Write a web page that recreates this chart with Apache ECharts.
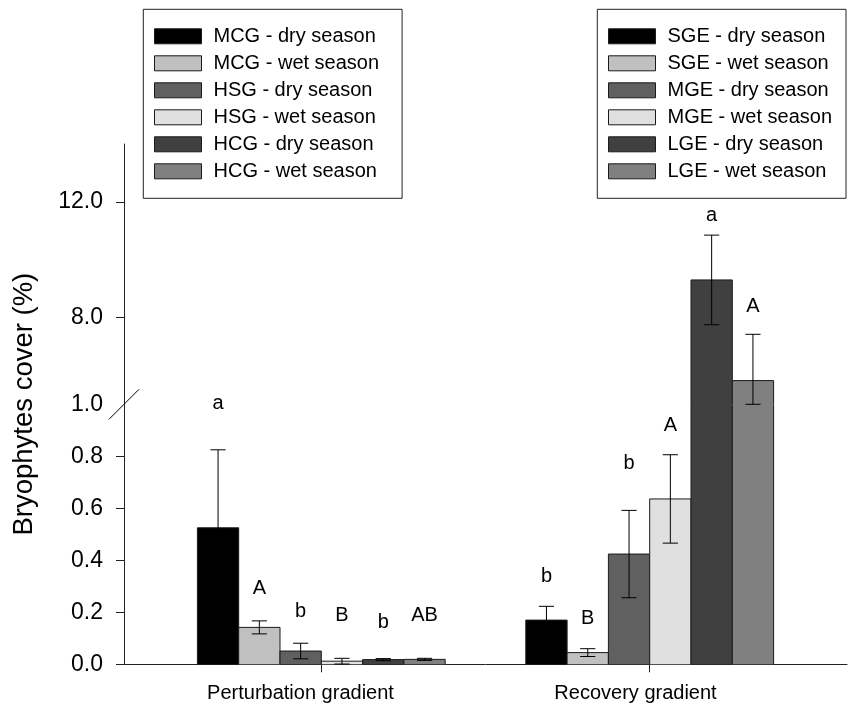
<!DOCTYPE html>
<html><head><meta charset="utf-8">
<script src="https://cdn.jsdelivr.net/npm/echarts@6/dist/echarts.min.js"></script>
<style>html,body{margin:0;padding:0;background:#fff}#chart{width:848px;height:713px}</style>
</head><body><div id="chart"></div>
<script>
// ---------------- data ----------------
const categories = ['Perturbation gradient', 'Recovery gradient'];

const perturbationNames = ['MCG - dry season', 'MCG - wet season', 'HSG - dry season', 'HSG - wet season', 'HCG - dry season', 'HCG - wet season'];
const perturbationMeans = [0.525, 0.142, 0.051, 0.012, 0.018, 0.019];
const perturbationErrors = [0.300, 0.025, 0.030, 0.011, 0.004, 0.004];
const perturbationLetters = ['a', 'A', 'b', 'B', 'b', 'AB'];
const perturbationLetterY = [1.003, 0.291, 0.205, 0.186, 0.161, 0.186];

const recoveryNames = ['SGE - dry season', 'SGE - wet season', 'MGE - dry season', 'MGE - wet season', 'LGE - dry season', 'LGE - wet season'];
const recoveryMeans = [0.170, 0.045, 0.424, 0.636, 9.30, 5.82];
const recoveryErrors = [0.053, 0.015, 0.168, 0.170, 1.55, 1.60];
const recoveryLetters = ['b', 'B', 'b', 'A', 'a', 'A'];
const recoveryLetterY = [0.336, 0.177, 0.773, 0.920, 11.53, 8.37];

const lowerRange = [0, 1.0];
const upperRange = [5, 14];
const lowerTickValues = [0, 0.2, 0.4, 0.6, 0.8];
const lowerLabelValues = [0, 0.2, 0.4, 0.6, 0.8, 1.0];
const upperTickValues = [8, 12];
const upperLabelValues = [8, 12];

const barColors = ['#000000', '#c0c0c0', '#606060', '#e0e0e0', '#404040', '#808080'];

// ---------------- style ----------------
const FONT = '"Liberation Sans", Arial, Helvetica, sans-serif';
const BAR_FRAC = 41.3 / 328.4;
const CAP_HALF = 7.6;
const EDGE = '#1a1a1a';
const AXIS_COLOR = '#222';

const groups = [
  {cat: 0, names: perturbationNames, means: perturbationMeans, errors: perturbationErrors, letters: perturbationLetters, letterY: perturbationLetterY},
  {cat: 1, names: recoveryNames, means: recoveryMeans, errors: recoveryErrors, letters: recoveryLetters, letterY: recoveryLetterY}
];

function renderBar(params, api, range, letter, showLetter) {
  const cat = api.value(0), v = api.value(1), e = api.value(2), k = api.value(3), ly = api.value(4);
  const axisMin = range[0], axisMax = range[1];
  const band = api.size([1, 0])[0];
  const w = band * BAR_FRAC;
  const cx = api.coord([cat, axisMin])[0];
  const x0 = cx + (k - 3) * w;
  const xc = x0 + w / 2;
  const yBase = api.coord([cat, axisMin])[1];
  const yMaxPix = api.coord([cat, axisMax])[1];
  const color = api.visual('color');
  const children = [];
  if (v > axisMin) {
    const clipped = v > axisMax;
    const continuesBelow = axisMin > 0; // segment above the axis break
    const yTop = clipped ? yMaxPix : api.coord([cat, v])[1];
    const fillTop = clipped ? yTop - 1 : yTop;
    const fillBottom = continuesBelow ? yBase + 1 : yBase;
    children.push({type: 'rect', shape: {x: x0, y: fillTop, width: w, height: fillBottom - fillTop}, style: {fill: color}});
    if (clipped) {
      children.push({type: 'line', shape: {x1: x0, y1: yBase, x2: x0, y2: yTop}, style: {stroke: EDGE, lineWidth: 1}});
      children.push({type: 'line', shape: {x1: x0 + w, y1: yBase, x2: x0 + w, y2: yTop}, style: {stroke: EDGE, lineWidth: 1}});
    } else {
      children.push({type: 'polyline', shape: {points: [[x0, yBase], [x0, yTop], [x0 + w, yTop], [x0 + w, yBase]]},
        style: {stroke: EDGE, lineWidth: 1, fill: null}});
    }
  }
  // error bars
  const lo = v - e, hi = v + e;
  if (hi >= axisMin && lo <= axisMax) {
    const a = Math.max(lo, axisMin), b = Math.min(hi, axisMax);
    const ya = api.coord([cat, a])[1], yb = api.coord([cat, b])[1];
    children.push({type: 'line', shape: {x1: xc, y1: ya, x2: xc, y2: yb}, style: {stroke: '#000', lineWidth: 1}});
    if (hi <= axisMax) children.push({type: 'line', shape: {x1: xc - CAP_HALF, y1: yb, x2: xc + CAP_HALF, y2: yb}, style: {stroke: '#000', lineWidth: 1}});
    children.push({type: 'line', shape: {x1: xc - CAP_HALF, y1: ya, x2: xc + CAP_HALF, y2: ya}, style: {stroke: '#000', lineWidth: 1}});
  }
  if (showLetter) {
    const yl = api.coord([cat, ly])[1];
    children.push({type: 'text', style: {text: letter, x: xc, y: yl, fill: '#000', font: '20px ' + FONT, align: 'center', verticalAlign: 'middle'}});
  }
  return {type: 'group', children: children};
}

const series = [];
[0, 1].forEach(function (gi) {
  const range = gi === 0 ? lowerRange : upperRange;
  groups.forEach(function (g) {
    g.names.forEach(function (name, k) {
      const inLower = g.letterY[k] < upperRange[0];
      const showLetter = gi === 0 ? inLower : !inLower;
      series.push({
        type: 'custom', name: name, xAxisIndex: gi, yAxisIndex: gi,
        itemStyle: {color: barColors[k]},
        data: [[g.cat, g.means[k], g.errors[k], k, g.letterY[k]]],
        renderItem: function (params, api) { return renderBar(params, api, range, g.letters[k], showLetter); },
        z: gi === 0 ? 3 : 4
      });
    });
  });
});

const gridLeft = 157.1, gridRight = 34.1;
const legendCommon = {
  orient: 'vertical', icon: 'rect', itemWidth: 47, itemHeight: 15, itemGap: 7,
  borderColor: '#222', borderWidth: 1, backgroundColor: '#fff',
  itemStyle: {borderColor: EDGE, borderWidth: 1},
  textStyle: {fontSize: 20, color: '#000', fontFamily: FONT, padding: [0, 0, 0, 7]},
  selectedMode: false
};

const option = {
  animation: false,
  backgroundColor: '#fff',
  grid: [
    {left: gridLeft, right: gridRight, top: 404.3, height: 260, containLabel: false},
    {left: gridLeft, right: gridRight, top: 144, height: 260.3, containLabel: false},
    {left: 124, right: 1, top: 144, height: 520.3, containLabel: false}
  ],
  xAxis: [
    {gridIndex: 0, type: 'category', data: categories,
      axisLine: {show: false},
      axisTick: {show: true, alignWithLabel: true, length: 8, lineStyle: {color: AXIS_COLOR, width: 1}},
      axisLabel: {margin: 19, interval: 0,
        formatter: function (v, i) { return (i === 0 ? '{a|' : '{b|') + v + '}'; },
        rich: {
          a: {fontSize: 20, color: '#000', fontFamily: FONT, padding: [0, 41.6, 0, 0]},
          b: {fontSize: 20, color: '#000', fontFamily: FONT, padding: [0, 28.4, 0, 0]}
        }},
      splitLine: {show: false}},
    {gridIndex: 1, type: 'category', data: categories, show: false},
    {gridIndex: 2, type: 'value', min: 0, max: 1,
      axisLine: {show: true, onZero: false, lineStyle: {color: AXIS_COLOR, width: 1}},
      axisTick: {show: false}, axisLabel: {show: false}, splitLine: {show: false}}
  ],
  yAxis: [
    {gridIndex: 0, type: 'value', min: lowerRange[0], max: lowerRange[1], offset: 33.1,
      axisLine: {show: true, onZero: false, lineStyle: {color: AXIS_COLOR, width: 1}},
      axisTick: {show: true, length: 8, customValues: lowerTickValues, lineStyle: {color: AXIS_COLOR, width: 1}},
      axisLabel: {customValues: lowerLabelValues, formatter: function (v) { return Number(v).toFixed(1); },
        margin: 21, fontSize: 23, color: '#000', fontFamily: FONT},
      splitLine: {show: false}},
    {gridIndex: 1, type: 'value', min: upperRange[0], max: upperRange[1], offset: 33.1,
      axisLine: {show: true, onZero: false, lineStyle: {color: AXIS_COLOR, width: 1}},
      axisTick: {show: true, length: 8, customValues: upperTickValues, lineStyle: {color: AXIS_COLOR, width: 1}},
      axisLabel: {customValues: upperLabelValues, formatter: function (v) { return Number(v).toFixed(1); },
        margin: 21, fontSize: 23, color: '#000', fontFamily: FONT},
      splitLine: {show: false}},
    {gridIndex: 2, type: 'value', min: 0, max: 1,
      axisLine: {show: false}, axisTick: {show: false}, axisLabel: {show: false}, splitLine: {show: false},
      name: 'Bryophytes cover (%)', nameLocation: 'middle', nameGap: 86,
      nameTextStyle: {fontSize: 27.5, color: '#000', fontFamily: FONT}}
  ],
  legend: [
    Object.assign({}, legendCommon, {data: perturbationNames, left: 143.3, top: 9.3, padding: [17, 23, 17, 10.7]}),
    Object.assign({}, legendCommon, {data: recoveryNames, left: 597.3, top: 9.3, padding: [17, 14, 17, 10.7]})
  ],
  series: series
};

const chart = echarts.init(document.getElementById('chart'));
chart.setOption(option);

// axis-break mark on the y axis at the top of the lower segment
const breakY = chart.convertToPixel({yAxisIndex: 0}, lowerRange[1]);
const axisX = chart.convertToPixel({xAxisIndex: 2}, 0);
chart.setOption({
  graphic: [{type: 'line', z: 10, shape: {x1: axisX - 15, y1: breakY + 15, x2: axisX + 15, y2: breakY - 15}, style: {stroke: '#000', lineWidth: 1}}]
});
</script>
</body></html>
